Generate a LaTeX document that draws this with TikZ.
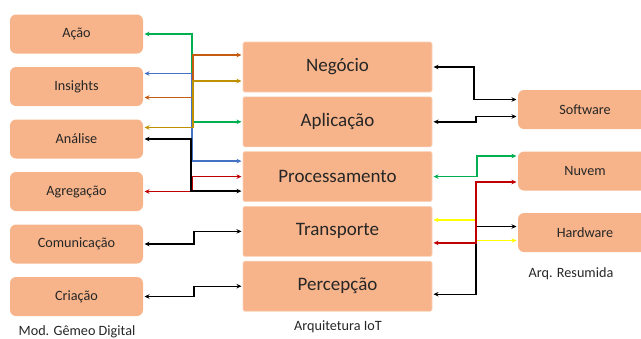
\documentclass[tikz,border=0pt]{standalone}
\usepackage{fontspec}
\setmainfont{Carlito}
\usepackage{xcolor}
\usetikzlibrary{arrows.meta,positioning,calc}
\definecolor{pessego}{HTML}{F7B48A}
\definecolor{verde}{HTML}{00B050}
\definecolor{laranja}{HTML}{C55A11}
\definecolor{azul}{HTML}{4472C4}
\definecolor{ouro}{HTML}{BF9000}
\definecolor{vermelho}{HTML}{C00000}
\definecolor{amarelo}{HTML}{FFFF00}

\begin{document}
\begin{tikzpicture}[x=1pt,y=-1pt,
	gd node/.style={rounded corners=6pt,fill=pessego,inner sep=0pt,outer sep=0pt,text=black!85,
		minimum width=133pt,minimum height=39pt,font=\fontsize{14.2}{16}\selectfont},
	iot node/.style={rounded corners=1.5pt,fill=pessego,draw=pessego!60!white,line width=0.6pt,
		inner sep=0pt,outer sep=0pt,text=black!85,
		minimum width=189pt,minimum height=50pt,font=\fontsize{19}{22}\selectfont},
	arq node/.style={gd node,minimum width=134pt},
	rotulo/.style={text=black!85,font=\fontsize{14.2}{16}\selectfont},
	link/.style={{Stealth[length=5pt,width=4.5pt]}-{Stealth[length=5pt,width=4.5pt]},
		line width=1.4pt,shorten <=1.5pt,shorten >=1.5pt}]

    \clip (0,0) rectangle (641,338);

    % modelo do gemeo digital
    \node[gd node] (Acao) at (76.5,34) {Ação};
    \node[gd node] (Insights) [below = 13.5pt of Acao] {Insights};
    \node[gd node] (Analise) [below = 13.5pt of Insights] {Análise};
    \node[gd node] (Agregacao) [below = 13.5pt of Analise] {Agregação};
    \node[gd node] (Comunicacao) [below = 13.5pt of Agregacao] {Comunicação};
    \node[gd node] (Criacao) [below = 13.5pt of Comunicacao] {Criação};

    % arquitetura IoT
    \node[iot node] (Negocio) at (337.5,67) {Negócio};
    \node[iot node] (Aplicacao) [below = 4.8pt of Negocio] {Aplicação};
    \node[iot node] (Processamento) [below = 4.8pt of Aplicacao] {Processamento};
    \node[iot node] (Transporte) [below = 4.8pt of Processamento] {Transporte};
    \node[iot node] (Percepcao) [below = 4.8pt of Transporte] {Percepção};

    % arquitetura resumida
    \node[arq node] (Software) at (585,109.5) {Software};
    \node[arq node] (Nuvem) [below = 22.5pt of Software] {Nuvem};
    \node[arq node] (Hardware) [below = 22.5pt of Nuvem] {Hardware};

    \node[rotulo] (rotGD) at (77,332) {Mod. Gêmeo Digital};
    \node[rotulo] (rotIoT) at (338,327) {Arquitetura IoT};
    \node[rotulo] (rotArq) at (571,274) {Arq. Resumida};

    % ligacoes lado esquerdo
    \draw[link,verde] (Acao.east) -- ++(49,0) |- (Aplicacao.west);
    \draw[link,azul] ([yshift=13pt]Insights.east) -- ++(49,0) |- ([yshift=15.5pt]Processamento.west);
    \draw[link,laranja] ([yshift=-11pt]Insights.east) -- ++(50,0) |- ([yshift=12pt]Negocio.west);
    \draw[link,ouro] ([yshift=11.5pt]Analise.east) -- ++(50,0) |- ([yshift=-14pt]Negocio.west);
    \draw[link,vermelho] (Agregacao.east) -- ++(49,0) |- (Processamento.west);
    \draw[link,black] (Analise.east) -- ++(48,0) |- ([yshift=-14.5pt]Processamento.west);
    \draw[link,black] (Comunicacao.east) -- ++(51,0) |- (Transporte.west);
    \draw[link,black] (Criacao.east) -- ++(51,0) |- (Percepcao.west);

    % ligacoes lado direito
    \draw[link,black] (Negocio.east) -- ++(42,0) |- ([yshift=10pt]Software.west);
    \draw[link,black] (Aplicacao.east) -- ++(44,0) |- ([yshift=-7pt]Software.west);
    \draw[link,verde] (Processamento.east) -- ++(45,0) |- ([yshift=15pt]Nuvem.west);
    \draw[link,black] ([yshift=-8pt]Percepcao.east) -- ++(44,0) |- ([yshift=6pt]Hardware.west);
    \draw[link,amarelo] ([yshift=11.5pt]Transporte.east) -- ++(44,0) |- ([yshift=-8pt]Hardware.west);
    \draw[link,vermelho] ([yshift=-11.5pt]Transporte.east) -- ++(44,0) |- ([yshift=-11pt]Nuvem.west);

\end{tikzpicture}
\end{document}
